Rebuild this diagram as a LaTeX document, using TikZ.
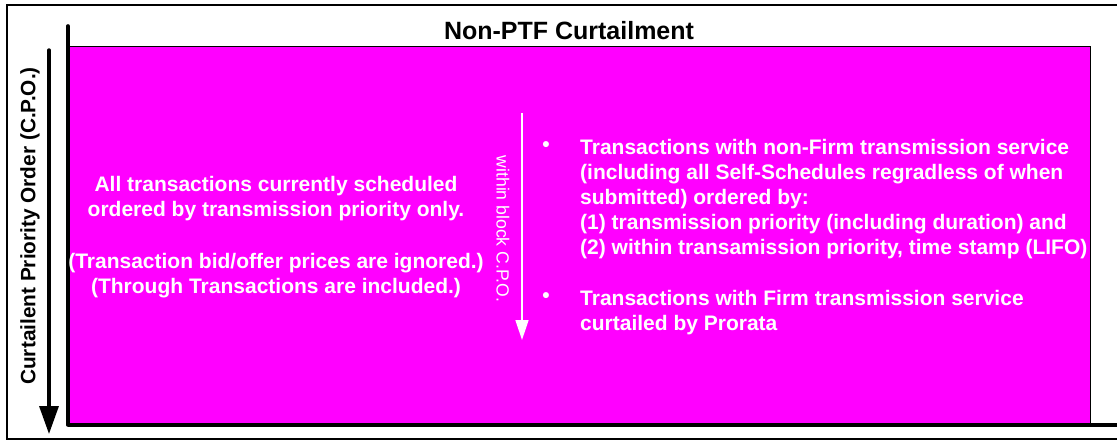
\documentclass[tikz,border=0pt]{standalone}
\usepackage{fontspec}
\setmainfont{Liberation Sans}
\usetikzlibrary{arrows.meta}
\definecolor{curtmag}{HTML}{FF00FF}

\begin{document}
\begin{tikzpicture}[x=1pt, y=-1pt]
		\tikzstyle{every node}=[inner sep=0pt, font=\bfseries]
		\tikzstyle{body}=[text=white, font=\bfseries\fontsize{21}{24.6}\selectfont]
		\useasboundingbox (0, 0) rectangle (1117, 441);
		% frame and block
		\draw [line width=2.2pt] (1120, 5) -- (7, 5) -- (7, 439) -- (1120, 439);
		\draw [fill=curtmag, line width=0.8pt] (68, 46) rectangle (1090, 425);
		\draw [line width=3.6pt, line cap=round] (68, 26) -- (68, 425);
		\draw [line width=3.6pt] (68, 425) -- (1120, 425);
		\node (title) at (569, 31) {\fontsize{25}{28}\selectfont Non-PTF Curtailment};
		% curtailment priority order
		\coordinate (cpotop) at (49, 50);
		\coordinate (cpobot) at (49, 434);
		\draw [line width=3.4pt, line cap=round, -{Triangle[length=28pt, width=19pt]}] (cpotop) -- (cpobot);
		\node (cpo) at (30, 226) [rotate=90] {\fontsize{20.8}{24}\selectfont Curtailent Priority Order (C.P.O.)};
		% within block
		\coordinate (blktop) at (522, 113);
		\coordinate (blkbot) at (522, 340);
		\draw [white, line width=1.5pt, -{Triangle[length=20pt, width=13pt]}] (blktop) -- (blkbot);
		\node (blk) at (503, 229) [rotate=-90, text=white, font=\fontsize{17.6}{20}\selectfont] {within block C.P.O.};
		% texts
		\node (all) at (276, 237) [body, align=center] {All transactions currently scheduled\\ordered by transmission priority only.\\[28pt](Transaction bid/offer prices are ignored.)\\(Through Transactions are included.)};
		\node (nonfirm) at (580, 139) [body, anchor=north west, align=left, font=\bfseries\fontsize{21}{25}\selectfont] {Transactions with non-Firm transmission service\\(including all Self-Schedules regradless of when\\submitted) ordered by:\\(1) transmission priority (including duration) and\\(2) within transamission priority, time stamp (LIFO)};
		\node (firm) at (580, 290) [body, anchor=north west, align=left, font=\bfseries\fontsize{21}{25}\selectfont] {Transactions with Firm transmission service\\curtailed by Prorata};
		\node (dot1) at (546, 147) [body] {\textbullet};
		\node (dot2) at (546, 298) [body] {\textbullet};
		\end{tikzpicture}
\end{document}
